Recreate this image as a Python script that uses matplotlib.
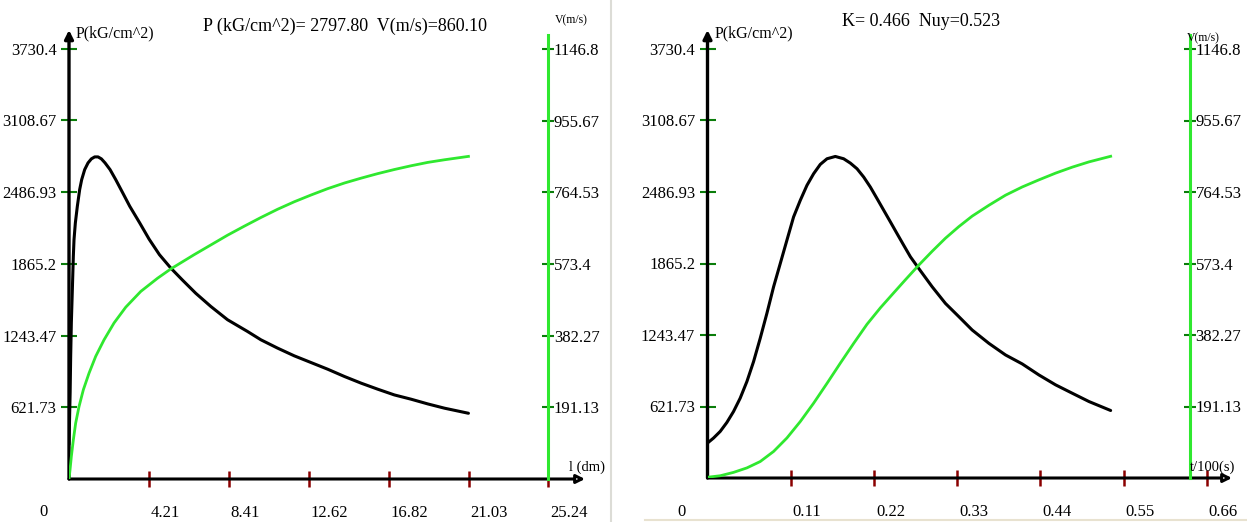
import matplotlib
matplotlib.use("Agg")
import matplotlib.pyplot as plt
import matplotlib.transforms as mtransforms
from matplotlib.lines import Line2D

plt.rcParams['font.family'] = ['Liberation Serif', 'DejaVu Serif']

## data
# left panel: pressure / velocity vs. length l (dm)
l_p = [0, 0.06, 0.088, 0.123, 0.176, 0.228, 0.264, 0.334, 0.439, 0.562, 0.668,
       0.826, 1.002, 1.177, 1.353, 1.529, 1.705, 1.898, 2.161, 2.460, 2.829,
       3.198, 3.725, 4.217, 4.762, 5.359, 5.974, 6.677, 7.468, 8.347, 9.401,
       10.104, 10.98, 11.86, 12.74, 13.62, 14.50, 15.38, 16.25, 17.13, 18.01,
       18.89, 19.77, 21.03]
p_l = [300, 750, 1062, 1352, 1641, 1931, 2075, 2220, 2365, 2510, 2596, 2683,
       2741, 2776, 2793, 2793, 2776, 2741, 2683, 2596, 2481, 2365, 2220, 2080,
       1945, 1829, 1725, 1610, 1496, 1381, 1279, 1207, 1135, 1068, 1010, 952,
       889, 831, 779, 729, 692, 651, 614, 570]
l_v = [0, 0.053, 0.123, 0.228, 0.351, 0.527, 0.756, 1.054, 1.406, 1.845, 2.372,
       2.987, 3.778, 4.657, 5.359, 6.59, 7.47, 8.35, 9.23, 10.10, 10.98, 11.86,
       12.74, 13.62, 14.50, 15.38, 16.25, 17.13, 18.01, 18.89, 19.77, 21.03]
v_l = [0, 24, 60, 104, 149, 193, 238, 282, 327, 371, 416, 458, 500, 535, 560,
       598, 624, 650, 674, 697, 719, 739, 757, 774, 789, 802, 814, 825, 835, 844,
       851, 860]

# right panel: pressure / velocity vs. time t/100 (s)
t_p = [0, 0.0079, 0.0168, 0.0256, 0.0344, 0.0432, 0.0521, 0.0609, 0.0697,
       0.0785, 0.0874, 0.0962, 0.1050, 0.1138, 0.1227, 0.1315, 0.1403, 0.1491,
       0.1580, 0.1690, 0.1800, 0.1889, 0.1977, 0.2065, 0.2153, 0.2242, 0.2330,
       0.2418, 0.2506, 0.2594, 0.2683, 0.2793, 0.2970, 0.3146, 0.3323, 0.3499,
       0.3720, 0.3940, 0.4161, 0.4382, 0.4602, 0.4823, 0.5043, 0.5330]
p_t = [304, 347, 405, 483, 578, 694, 839, 1012, 1215, 1431, 1663, 1865, 2068,
       2270, 2415, 2545, 2646, 2727, 2776, 2796, 2776, 2738, 2689, 2617, 2530,
       2429, 2328, 2227, 2125, 2024, 1923, 1822, 1663, 1518, 1403, 1287, 1171,
       1070, 992, 896, 810, 737, 665, 587]
t_v = [0, 0.0168, 0.0344, 0.0521, 0.0697, 0.0874, 0.1050, 0.1227, 0.1403,
       0.1580, 0.1756, 0.1933, 0.2109, 0.2286, 0.2462, 0.2617, 0.2793, 0.2970,
       0.3146, 0.3323, 0.3499, 0.3720, 0.3940, 0.4161, 0.4382, 0.4602, 0.4823,
       0.5043, 0.5330]
v_t = [2, 6, 15, 27, 44, 71, 107, 151, 200, 253, 307, 360, 411, 455, 495, 530,
       569, 606, 641, 672, 700, 729, 756, 778, 797, 815, 831, 845, 860]

# axis ticks
p_ticks = ["621.73", "1243.47", "1865.2", "2486.93", "3108.67", "3730.4"]
v_ticks = ["191.13", "382.27", "573.4", "764.53", "955.67", "1146.8"]
l_ticks = ["4.21", "8.41", "12.62", "16.82", "21.03", "25.24"]
t_ticks = ["0.11", "0.22", "0.33", "0.44", "0.55", "0.66"]
p_max = 3730.4
v_max = 1146.8
l_max = 25.24
t_max = 0.66

title_left = "P (kG/cm^2)= 2797.80  V(m/s)=860.10"
title_right = "K= 0.466  Nuy=0.523"

W, H = 1247, 522
GREEN = '#2fe82f'
TICKG = '#0b7d0b'
DRED = '#8b0000'


def panel(fig, x0, y0, x1, y1, xstep_px, pstep_px, xmax, xlabels, xs_p, ps,
          xs_v, vs, xgreen, xarrow, xlabel, xlabel_pos, vlabel_pos):
    # x0,y0 = origin in pixels, x1 = right end of axes, y1 = top of axes
    ax = fig.add_axes([x0 / W, 1 - y0 / H, (x1 - x0) / W, (y0 - y1) / H])
    n = len(xlabels)
    xstep = xmax / n
    pstep = p_max / len(p_ticks)
    ax.set_xlim(0, (x1 - x0) / xstep_px * xstep)
    plim = (y0 - y1) / pstep_px * pstep
    ax.set_ylim(0, plim)
    for s in ax.spines.values():
        s.set_visible(False)
    ax.patch.set_alpha(0)

    ax.set_xticks([xstep * k for k in range(1, n + 1)])
    ax.set_xticklabels(xlabels, ha='left')
    ax.set_yticks([pstep * k for k in range(1, len(p_ticks) + 1)])
    ax.set_yticklabels(p_ticks)
    ax.tick_params(axis='x', direction='inout', length=12, width=1.8,
                   color=DRED, labelsize=12, pad=13)
    ax.tick_params(axis='y', direction='inout', length=12, width=1.5,
                   color=TICKG, labelsize=12, pad=3)
    shift = mtransforms.ScaledTranslation(2 / 100, 0, fig.dpi_scale_trans)
    for lab in ax.get_xticklabels():
        lab.set_transform(lab.get_transform() + shift)

    # axes lines with arrows
    ytop = (y0 - 30) / pstep_px * pstep
    ax.annotate('', xy=(0, ytop), xytext=(0, 0),
                arrowprops=dict(arrowstyle='-|>,head_length=0.5,head_width=0.25',
                                color='black', lw=2.4, shrinkA=0, shrinkB=0),
                annotation_clip=False)
    ax.annotate('', xy=(xarrow, 0), xytext=(0, 0),
                arrowprops=dict(arrowstyle='-|>,head_length=0.5,head_width=0.25',
                                facecolor='white', edgecolor='black', lw=2.2,
                                shrinkA=0, shrinkB=0),
                annotation_clip=False)

    ax.plot(xs_p, ps, color='black', lw=2.2, solid_capstyle='round',
            solid_joinstyle='round')

    axv = ax.twinx()
    vstep = v_max / len(v_ticks)
    axv.set_ylim(0, plim * v_max / p_max)
    for k in ['left', 'top', 'bottom']:
        axv.spines[k].set_visible(False)
    axv.spines['right'].set_position(('data', xgreen))
    axv.spines['right'].set_color(GREEN)
    axv.spines['right'].set_linewidth(2.2)
    axv.spines['right'].set_bounds(0, (y0 - 35) / pstep_px * vstep)
    axv.set_yticks([vstep * k for k in range(1, len(v_ticks) + 1)])
    axv.set_yticklabels(v_ticks)
    axv.tick_params(axis='y', direction='inout', length=8, width=1.5,
                    color=TICKG, labelsize=12, pad=0)
    axv.plot(xs_v, vs, color=GREEN, lw=2, solid_joinstyle='round')

    fig.text((x0 + 7) / W, 1 - 33 / H, "P(kG/cm^2)", fontsize=11.5,
             ha='left', va='center')
    fig.text(vlabel_pos[0] / W, 1 - vlabel_pos[1] / H, "V(m/s)", fontsize=8.5,
             ha='center', va='center')
    fig.text(xlabel_pos[0] / W, 1 - xlabel_pos[1] / H, xlabel, fontsize=10.5,
             ha='center', va='center')
    fig.text((x0 - 26) / W, 1 - 512 / H, "0", fontsize=12, ha='center',
             va='center')
    return ax


fig = plt.figure(figsize=(W / 100, H / 100), dpi=100)

panel(fig, 69, 479, 600, 25, 79.9, 71.7, l_max, l_ticks, l_p, p_l, l_v, v_l,
      l_max, (585 - 69) / 79.9 * (l_max / 6), "l (dm)", (587, 467), (571, 20))
panel(fig, 707.5, 478, 1240, 25, 83.2, 71.5, t_max, t_ticks, t_p, p_t, t_v, v_t,
      (1190 - 707.5) / 83.2 * (t_max / 6),
      (1232 - 707.5) / 83.2 * (t_max / 6), "t/100(s)", (1213, 467), (1203, 38))

fig.text(345 / W, 1 - 26 / H, title_left, fontsize=13, ha='center', va='center')
fig.text(921 / W, 1 - 22 / H, title_right, fontsize=13, ha='center', va='center')

# faint panel borders
fig.add_artist(Line2D([611 / W, 611 / W], [0, 1], color='#dcdcd6', lw=1.5))
fig.add_artist(Line2D([645 / W, 1], [1 - 520 / H, 1 - 520 / H],
                      color='#e8e2d0', lw=1.5))

fig.savefig("out.png", dpi=100)
